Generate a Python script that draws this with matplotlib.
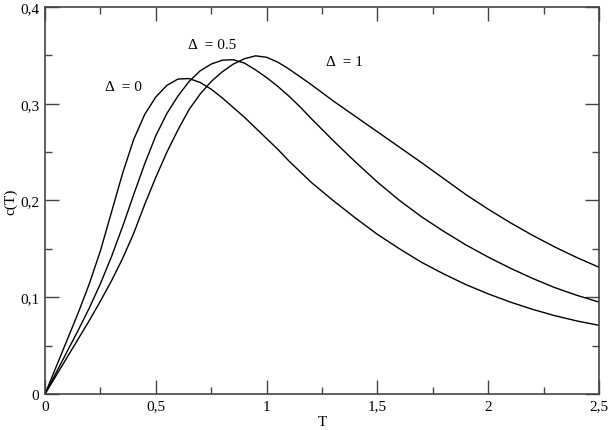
import matplotlib
matplotlib.use("Agg")
import matplotlib.pyplot as plt
from matplotlib.ticker import MultipleLocator, FuncFormatter

T = [0.0, 0.05, 0.1, 0.15, 0.2, 0.25, 0.3, 0.35, 0.4, 0.45, 0.5, 0.55, 0.6,
     0.65, 0.7, 0.75, 0.8, 0.85, 0.9, 0.95, 1.0, 1.05, 1.1, 1.15, 1.2,
     1.3, 1.4, 1.5, 1.6, 1.7, 1.8, 1.9, 2.0, 2.1, 2.2, 2.3, 2.4, 2.5]

c_delta0 = [0.0, 0.028, 0.056, 0.084, 0.114, 0.148, 0.188, 0.228, 0.263, 0.289,
            0.307, 0.319, 0.3255, 0.326, 0.322, 0.315, 0.306, 0.296, 0.286, 0.275,
            0.264, 0.253, 0.241, 0.230, 0.219,
            0.200, 0.182, 0.165, 0.150, 0.136, 0.124, 0.113, 0.1035, 0.095, 0.0875,
            0.081, 0.0755, 0.071]
c_delta05 = [0.0, 0.022, 0.044, 0.066, 0.089, 0.114, 0.142, 0.173, 0.206, 0.238,
             0.267, 0.290, 0.308, 0.323, 0.334, 0.341, 0.345, 0.3455, 0.342, 0.335,
             0.327, 0.318, 0.308, 0.297, 0.285,
             0.262, 0.240, 0.219, 0.200, 0.183, 0.168, 0.154, 0.1415, 0.130, 0.1195,
             0.110, 0.102, 0.095]
c_delta1 = [0.0, 0.019, 0.038, 0.057, 0.076, 0.096, 0.117, 0.140, 0.166, 0.196,
            0.224, 0.250, 0.273, 0.294, 0.310, 0.323, 0.333, 0.341, 0.3465, 0.3495,
            0.348, 0.343, 0.336, 0.328, 0.320,
            0.303, 0.287, 0.271, 0.255, 0.239, 0.2225, 0.206, 0.191, 0.177, 0.164,
            0.152, 0.141, 0.131]

labels = ["\u0394  = 0", "\u0394  = 0.5", "\u0394  = 1"]
label_pos = [(0.27, 0.318), (0.645, 0.361), (1.268, 0.344)]

plt.rcParams['font.family'] = ['Liberation Serif', 'DejaVu Serif']

fig = plt.figure(figsize=(6.10, 4.31), dpi=100)
ax = fig.add_axes([0.0738, 0.0835, 0.9082, 0.898])

for y in (c_delta0, c_delta05, c_delta1):
    ax.plot(T, y, color='black', lw=1.0)

for txt, (x, y) in zip(labels, label_pos):
    ax.text(x, y, txt, fontsize=11, va='center', ha='left')

ax.set_xlim(0, 2.5)
ax.set_ylim(0, 0.4)
ax.xaxis.set_major_locator(MultipleLocator(0.5))
ax.xaxis.set_minor_locator(MultipleLocator(0.25))
ax.yaxis.set_major_locator(MultipleLocator(0.1))
ax.yaxis.set_minor_locator(MultipleLocator(0.05))

def fmt(v, pos):
    s = ('%.1f' % v).rstrip('0').rstrip('.')
    return s.replace('.', ',')

ax.xaxis.set_major_formatter(FuncFormatter(fmt))
ax.yaxis.set_major_formatter(FuncFormatter(fmt))

ax.tick_params(which='both', direction='in', top=True, right=True,
               labelsize=11, color='#444444')
ax.tick_params(which='major', length=10, width=1.0, pad=4)
ax.tick_params(which='minor', length=5, width=1.0)
for s in ax.spines.values():
    s.set_color('#444444')
    s.set_linewidth(1.2)

ax.set_xlabel('T', fontsize=11, labelpad=2)
ax.set_ylabel('c(T)', fontsize=11, labelpad=2)

fig.savefig('out.png', dpi=100)
